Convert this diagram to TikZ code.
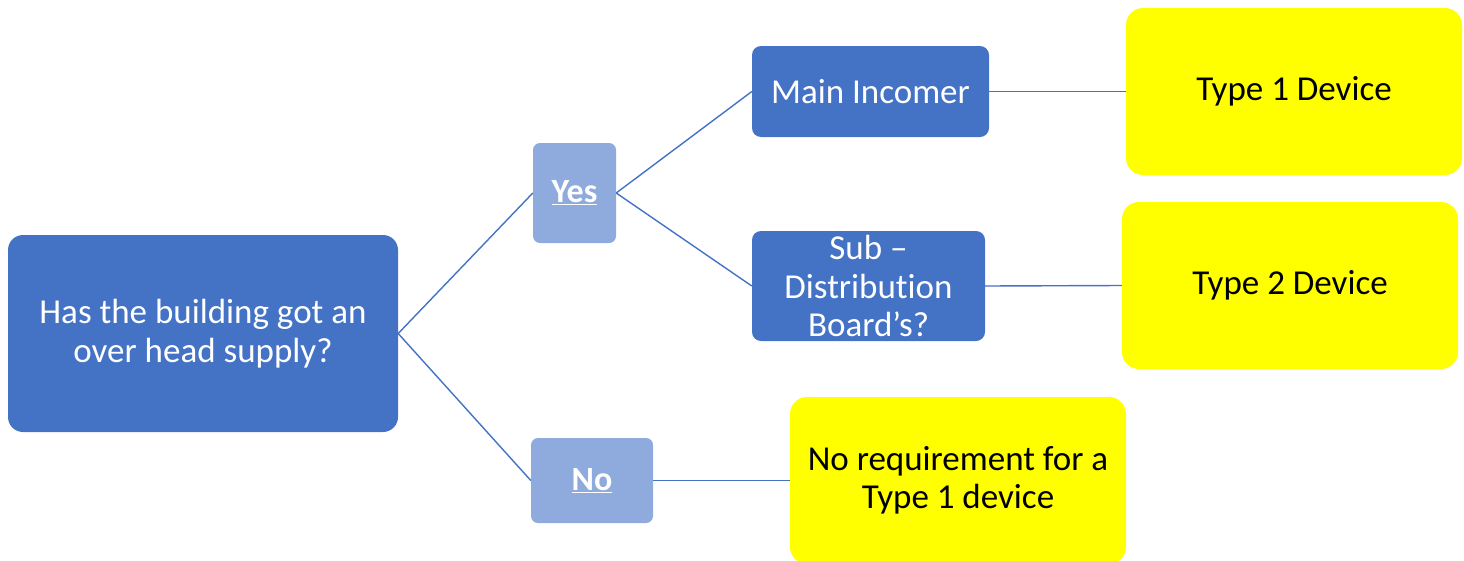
\documentclass[tikz,border=0pt]{standalone}
\usepackage{fontspec}
\setmainfont[RawFeature={-liga;-clig;-calt;-dlig;-rlig}]{Carlito}
\definecolor{dblue}{HTML}{4472C4}
\definecolor{lblue}{HTML}{8FAADC}
\definecolor{yel}{HTML}{FFFF00}
\newcommand{\myul}[1]{\underline{#1}}
\tikzset{
  box/.style={inner sep=0pt, align=center, font=\fontsize{35}{38.5}\selectfont},
  darkbox/.style={box, fill=dblue, text=white, rounded corners=9pt},
  lightbox/.style={box, fill=lblue, text=white, rounded corners=7pt, font=\fontsize{34}{38}\selectfont\bfseries},
  yelbox/.style={box, fill=yel, text=black, rounded corners=17pt, minimum width=336pt, minimum height=167pt},
  link/.style={draw=dblue, line width=1.4pt}
}
\begin{document}
\begin{tikzpicture}[x=1pt, y=-1pt]
\useasboundingbox (0,0) rectangle (1464,560);
\clip (0,0) rectangle (1464,560);
\node[darkbox, rounded corners=15pt, minimum width=390pt, minimum height=197pt] (root) at (203,333.5) {Has the building got an\\over head supply?};
\node[lightbox, minimum width=83pt, minimum height=100pt] (yes) at (574.5,193) {\myul{Yes}};
\node[lightbox, minimum width=122pt, minimum height=85pt] (no) at (592,480.5) {\myul{No}};
\node[darkbox, minimum width=237pt, minimum height=91pt] (main) at (870.5,91.5) {Main Incomer};
\node[darkbox, minimum width=233pt, minimum height=110pt] (sub) at (868.5,286) {Sub –\\Distribut\kern0pt ion\\Board’s?};
\node[yelbox] (t1) at (1294,91.5) {Type 1 Device};
\node[yelbox] (t2) at (1290,285.5) {Type 2 Device};
\node[yelbox] (noreq) at (958,480.5) {No requirement for a\\Type 1 device};
\draw[link] (root.east) -- (yes.west);
\draw[link] (root.east) -- (no.west);
\draw[link] (yes.east) -- (main.west);
\draw[link] (yes.east) -- (sub.west);
\draw[link] (main.east) -- (t1.west);
\draw[link] (sub.east) -- (t2.west);
\draw[link] (no.east) -- (noreq.west);
\end{tikzpicture}
\end{document}
